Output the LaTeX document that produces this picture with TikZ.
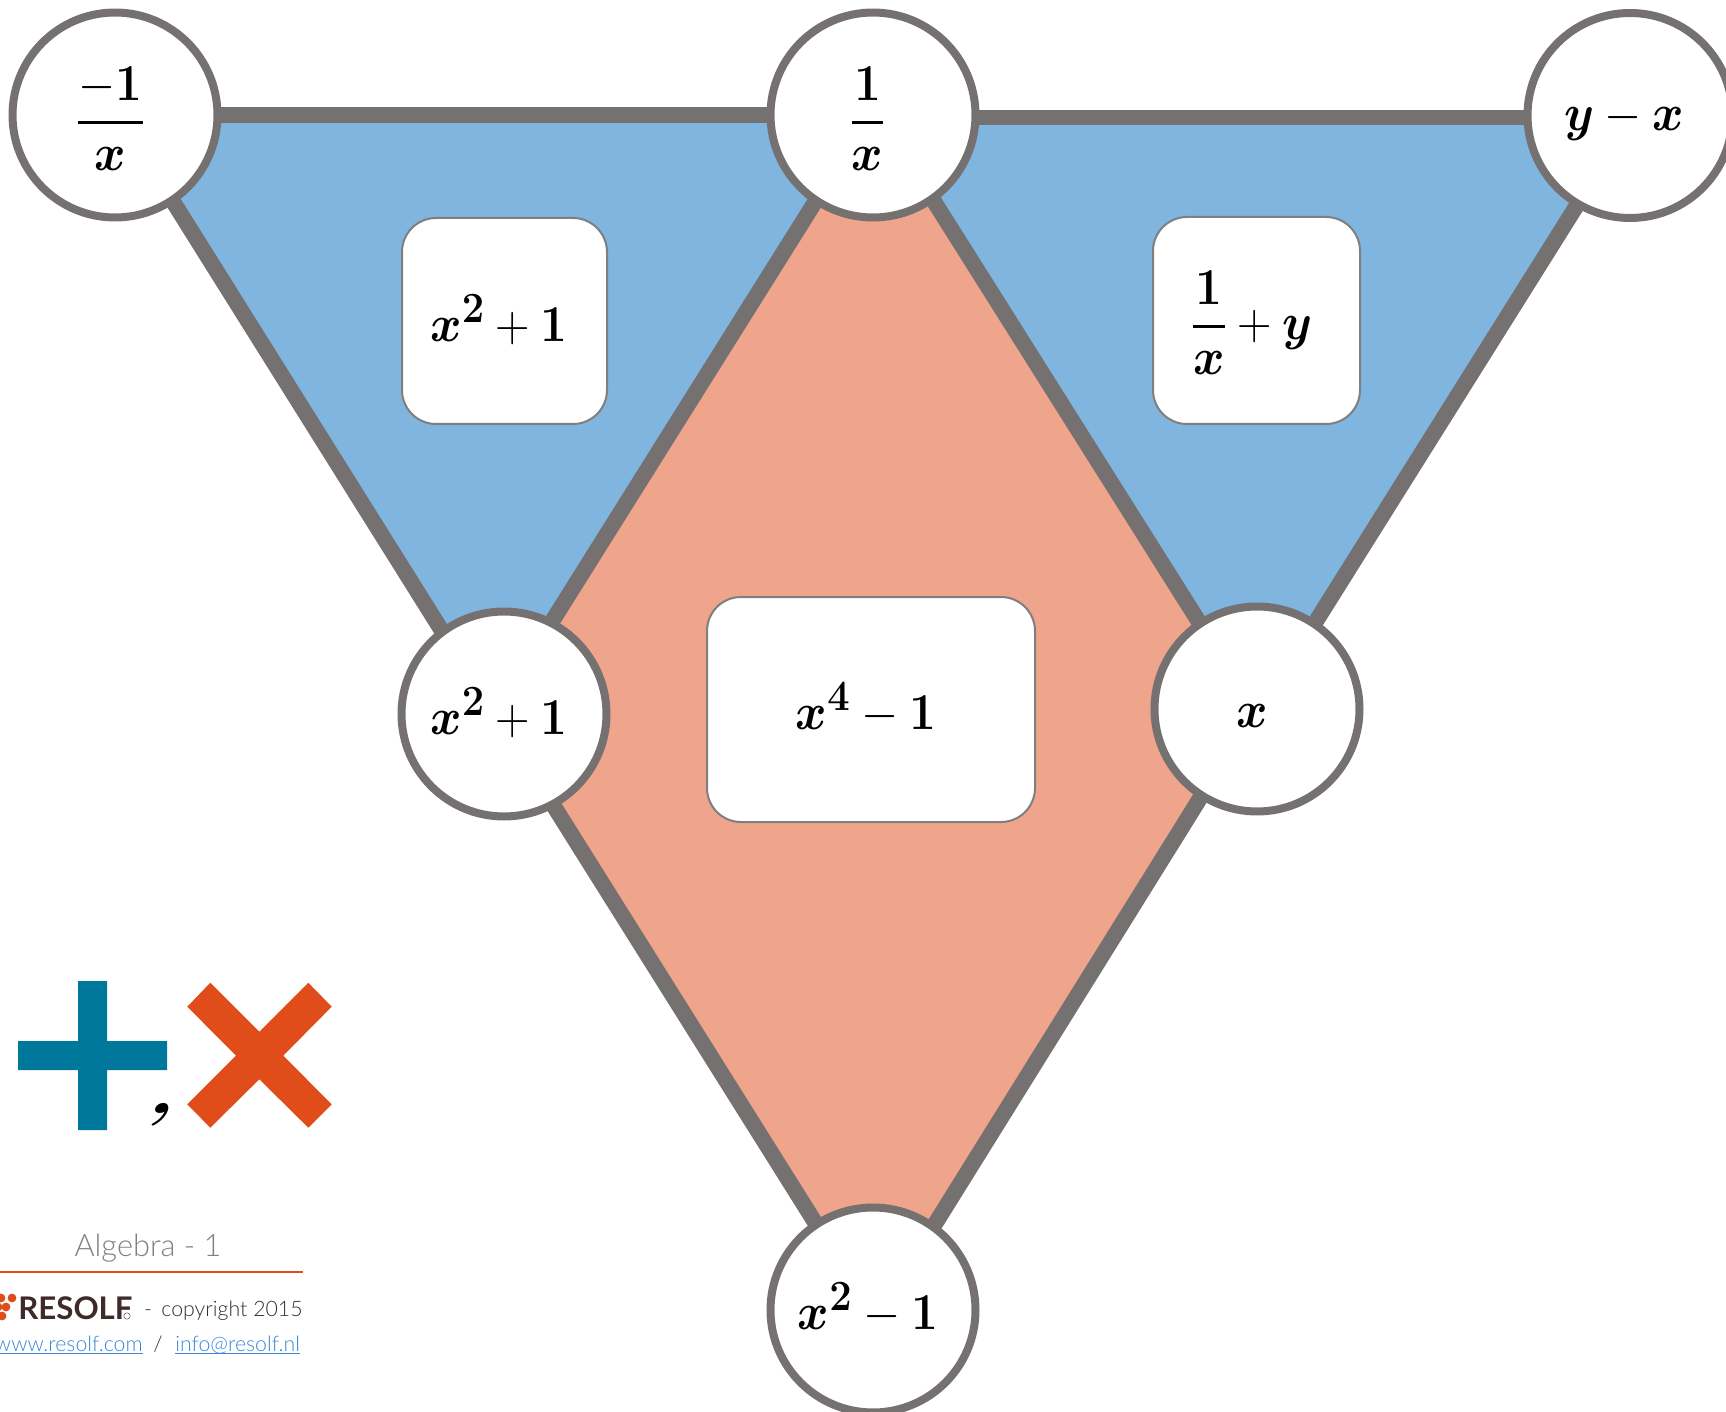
\documentclass[tikz,border=0pt]{standalone}
\usepackage[no-math]{fontspec}
\setmainfont{Lato}
\newfontfamily\latolight{Lato Light}
\newcommand{\mbx}[1]{\mbox{\boldmath$#1$}}
\newcommand{\nbf}[1]{\mathbf{#1}}
\newcommand{\myfrac}[2]{{\displaystyle{\rule[-3pt]{0pt}{0pt}#1\above 1.9pt \rule{0pt}{15pt}#2}}}
\definecolor{edgegray}{HTML}{767171}
\definecolor{boxgray}{HTML}{7F7F7F}
\definecolor{blueface}{HTML}{7FB5DE}
\definecolor{salmon}{HTML}{EFA48C}
\definecolor{plusblue}{HTML}{00789C}
\definecolor{crossred}{HTML}{E04C1A}
\definecolor{linkblue}{HTML}{3A86D8}
\definecolor{logobrown}{HTML}{3E2A28}
\definecolor{textgray}{HTML}{808080}
\definecolor{copygray}{HTML}{303030}
\tikzset{
  x=0.5pt,y=-0.5pt,
  vertexnode/.style={circle,draw=edgegray,fill=white,line width=4pt,minimum size=102.5pt,inner sep=0pt},
  cellbox/.style={rounded corners=17pt,draw=boxgray,fill=white,line width=1pt,inner sep=0pt},
  graph edge/.style={draw=edgegray,line width=7.9pt},
  formula/.style={inner sep=0pt,font=\fontsize{24.88}{28}\selectfont,xscale=.96,yscale=1.04,transform shape},
}
\begin{document}
\begin{tikzpicture}
\useasboundingbox (0,0) rectangle (1726,1412);
\clip (0,0) rectangle (1726,1412);
\coordinate (A) at (115,115);
\coordinate (B) at (873,115);
\coordinate (C) at (1630,115.5);
\coordinate (D) at (504,714);
\coordinate (E) at (1257,709);
\coordinate (F) at (873,1310);
% edge end points on the circles
\coordinate (ABa) at (118.8,115);
\coordinate (BDb) at (869.6,115);
\coordinate (BEb) at (879.6,115);
\coordinate (BCb) at (873,117.5);
\coordinate (BCc) at (1630,117.5);
\coordinate (ADd) at (494,714);
\coordinate (BEe) at (1253.8,709);
\coordinate (CEc) at (1632,117.5);
\coordinate (CEe) at (1261,709);
\coordinate (DFd) at (496,714);
\coordinate (DFf) at (870,1310);
\coordinate (EFe) at (1255.6,709);
\coordinate (EFf) at (881.5,1310);
\fill[blueface] (ABa) -- (BDb) -- (ADd) -- cycle;
\fill[blueface] (BEb) -- (BCb) -- (CEc) -- (CEe) -- (BEe) -- cycle;
\fill[salmon] (BDb) -- (BEb) -- (BEe) -- (EFf) -- (DFf) -- (DFd) -- (ADd) -- cycle;
\draw[graph edge] (A) -- (B);
\draw[graph edge] (BCb) -- (BCc);
\draw[graph edge] (ABa) -- (ADd);
\draw[graph edge] (BDb) -- (ADd);
\draw[graph edge] (BEb) -- (BEe);
\draw[graph edge] (CEc) -- (CEe);
\draw[graph edge] (DFd) -- (DFf);
\draw[graph edge] (EFe) -- (EFf);
\node[vertexnode] (na) at (A) {};
\node[vertexnode] (nb) at (B) {};
\node[vertexnode] (nc) at (C) {};
\node[vertexnode] (nd) at (D) {};
\node[vertexnode] (ne) at (E) {};
\node[vertexnode] (nf) at (F) {};
\node[formula] (ta) at (110.5,119) {$\myfrac{{-}\nbf{1}}{\mbx{x}}$};
\node[formula] (tb) at (867.5,119) {$\myfrac{\nbf{1}}{\mbx{x}}$};
\node[formula] (tc) at (1624,120) {$\mbx{y}-\mbx{x}$};
\node[formula] (td) at (499,713) {$\mbx{x}^{\nbf{2}}+\nbf{1}$};
\node[formula] (te) at (1252.5,716) {$\mbx{x}$};
\node[formula] (tf) at (868,1308) {$\mbx{x}^{\nbf{2}}-\nbf{1}$};
\node[cellbox,minimum width=102.5pt,minimum height=103pt] (b1) at (504.5,321) {};
\node[cellbox,minimum width=103.5pt,minimum height=103.5pt] (b2) at (1256.5,320.5) {};
\node[cellbox,minimum width=164pt,minimum height=112.5pt] (b3) at (871,709.5) {};
\node[formula] (t1) at (499,320) {$\mbx{x}^{\nbf{2}}+\nbf{1}$};
\node[formula] (t2) at (1252,323) {$\myfrac{\nbf{1}}{\mbx{x}}+\mbx{y}$};
\node[formula] (t3) at (866,708) {$\mbx{x}^{\nbf{4}}-\nbf{1}$};
% plus, comma, cross
\fill[plusblue] (78,981) -- (107,981) -- (107,1041) -- (167,1041) -- (167,1070) -- (107,1070) -- (107,1130) -- (78,1130) -- (78,1070) -- (18,1070) -- (18,1041) -- (78,1041) -- cycle;
\fill[crossred] (210.3,982.7) -- (259.3,1031.7) -- (308.3,982.7) -- (331.7,1006.7) -- (283.3,1055.7) -- (331.7,1104.3) -- (308.3,1127.7) -- (259.3,1079.3) -- (210.3,1127.7) -- (187.3,1104.3) -- (236,1055.7) -- (187.3,1006.7) -- cycle;
\node[inner sep=0pt,anchor=base,font=\fontsize{24.88}{28}\selectfont,xscale=1.6,yscale=1.3,xslant=0.3,transform shape] (comma) at (160,1113) {\mbx{,}};
% footer
\node[inner sep=0pt,anchor=base,text=textgray,font=\latolight\fontsize{15.4}{18}\selectfont] (alg) at (148,1256) {Algebra - 1};
\coordinate (ruleL) at (0,1272);
\coordinate (ruleR) at (303,1272);
\draw[crossred,line width=0.6pt] (ruleL) -- (ruleR);
\fill[crossred] (1,1298) circle (2.2pt);
\fill[crossred] (12,1298) circle (2.2pt);
\fill[crossred] (6,1307) circle (2.2pt);
\fill[crossred] (-2,1307) circle (2.2pt);
\fill[crossred] (2,1316) circle (2.2pt);
\node[inner sep=0pt,anchor=base west,text=logobrown,font=\bfseries\fontsize{15.6}{18}\selectfont] (logo) at (18,1319) {RESOLF};
\draw[copygray,line width=0.2pt] (127,1316) circle (1.6pt);
\node[inner sep=0pt,anchor=base,text=copygray,font=\latolight\fontsize{10.65}{14}\selectfont] (dash) at (148,1316) {-};
\node[inner sep=0pt,anchor=base east,text=copygray,font=\latolight\fontsize{10.65}{14}\selectfont] (copy) at (303,1316) {copyright 2015};
\node[inner sep=0pt,anchor=base east,text=linkblue,font=\latolight\fontsize{10.65}{14}\selectfont] (web) at (143,1351) {www.resolf.com};
\node[inner sep=0pt,anchor=base,text=copygray,font=\latolight\fontsize{10.65}{14}\selectfont] (slash) at (158,1351) {/};
\node[inner sep=0pt,anchor=base west,text=linkblue,font=\latolight\fontsize{10.65}{14}\selectfont] (mail) at (175,1351) {info@resolf.nl};
\draw[linkblue,line width=0.5pt] (web.base west |- 0,1353) -- (web.base east |- 0,1353);
\draw[linkblue,line width=0.5pt] (mail.base west |- 0,1353) -- (mail.base east |- 0,1353);
\end{tikzpicture}
\end{document}
